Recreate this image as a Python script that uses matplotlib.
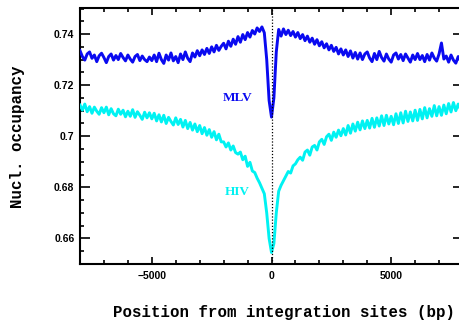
import matplotlib
matplotlib.use("Agg")
import matplotlib.pyplot as plt
import numpy as np
from matplotlib.ticker import MultipleLocator

# positions from integration sites, bp (100 bp bins)
pos = np.arange(-8000, 8001, 100)

# nucleosome occupancy around MLV integration sites
mlv = [0.7335, 0.7312, 0.7298, 0.7322, 0.7330, 0.7305, 0.7318, 0.7292, 0.7315, 0.7325,
       0.7308, 0.7288, 0.7312, 0.7322, 0.7298, 0.7316, 0.7300, 0.7324, 0.7308, 0.7295,
       0.7318, 0.7302, 0.7290, 0.7312, 0.7320, 0.7296, 0.7314, 0.7300, 0.7292, 0.7310,
       0.7296, 0.7318, 0.7292, 0.7325, 0.7300, 0.7285, 0.7318, 0.7298, 0.7326, 0.7295,
       0.7312, 0.7288, 0.7322, 0.7300, 0.7330, 0.7305, 0.7292, 0.7326, 0.7310, 0.7335,
       0.7315, 0.7338, 0.7320, 0.7344, 0.7324, 0.7350, 0.7330, 0.7356, 0.7336, 0.7352,
       0.7364, 0.7342, 0.7372, 0.7352, 0.7380, 0.7360, 0.7390, 0.7368, 0.7398, 0.7378,
       0.7406, 0.7388, 0.7414, 0.7400, 0.7424, 0.7410, 0.7428, 0.7405, 0.7300, 0.7140,
       0.7075,
       0.7150, 0.7330, 0.7418, 0.7392, 0.7420, 0.7398, 0.7415, 0.7394, 0.7410, 0.7388,
       0.7406, 0.7382, 0.7398, 0.7374, 0.7392, 0.7368, 0.7384, 0.7360, 0.7378, 0.7354,
       0.7370, 0.7346, 0.7362, 0.7338, 0.7356, 0.7332, 0.7348, 0.7322, 0.7342, 0.7318,
       0.7338, 0.7312, 0.7334, 0.7306, 0.7328, 0.7302, 0.7326, 0.7300, 0.7322, 0.7330,
       0.7306, 0.7292, 0.7324, 0.7300, 0.7332, 0.7308, 0.7294, 0.7322, 0.7302, 0.7290,
       0.7318, 0.7326, 0.7302, 0.7320, 0.7296, 0.7322, 0.7306, 0.7290, 0.7318, 0.7300,
       0.7324, 0.7300, 0.7316, 0.7292, 0.7320, 0.7298, 0.7326, 0.7306, 0.7294, 0.7322,
       0.7365, 0.7302, 0.7314, 0.7290, 0.7318, 0.7298, 0.7286, 0.7312, 0.7294, 0.7305]

# nucleosome occupancy around HIV integration sites
hiv = [0.7122, 0.7102, 0.7126, 0.7096, 0.7116, 0.7090, 0.7114, 0.7098, 0.7086, 0.7112,
       0.7092, 0.7114, 0.7084, 0.7108, 0.7088, 0.7080, 0.7106, 0.7086, 0.7102, 0.7076,
       0.7098, 0.7078, 0.7104, 0.7074, 0.7096, 0.7082, 0.7066, 0.7094, 0.7072, 0.7092,
       0.7068, 0.7090, 0.7060, 0.7084, 0.7056, 0.7082, 0.7050, 0.7074, 0.7058, 0.7044,
       0.7072, 0.7046, 0.7066, 0.7036, 0.7062, 0.7030, 0.7054, 0.7024, 0.7048, 0.7018,
       0.7042, 0.7010, 0.7034, 0.7004, 0.7026, 0.6996, 0.7018, 0.6986, 0.7008, 0.6978,
       0.6978, 0.6958, 0.6974, 0.6946, 0.6962, 0.6936, 0.6930, 0.6938, 0.6908, 0.6922,
       0.6882, 0.6898, 0.6864, 0.6858, 0.6836, 0.6818, 0.6796, 0.6775, 0.6700, 0.6600,
       0.6545,
       0.6580, 0.6700, 0.6785, 0.6808, 0.6826, 0.6844, 0.6862, 0.6856, 0.6884, 0.6892,
       0.6908, 0.6918, 0.6906, 0.6938, 0.6946, 0.6926, 0.6958, 0.6964, 0.6946, 0.6978,
       0.6988, 0.6968, 0.6998, 0.7008, 0.6984, 0.7016, 0.6996, 0.7024, 0.7002, 0.7030,
       0.7005, 0.7042, 0.7012, 0.7048, 0.7020, 0.7055, 0.7025, 0.7060, 0.7030, 0.7062,
       0.7032, 0.7070, 0.7035, 0.7072, 0.7040, 0.7080, 0.7042, 0.7082, 0.7048, 0.7078,
       0.7045, 0.7088, 0.7050, 0.7092, 0.7052, 0.7098, 0.7058, 0.7095, 0.7060, 0.7102,
       0.7062, 0.7105, 0.7068, 0.7112, 0.7072, 0.7108, 0.7078, 0.7120, 0.7080, 0.7116,
       0.7082, 0.7122, 0.7088, 0.7128, 0.7095, 0.7132, 0.7100, 0.7126, 0.7104, 0.7130]

yticks = [0.66, 0.68, 0.7, 0.72, 0.74]
ytick_labels = ['0.66', '0.68', '0.7', '0.72', '0.74']
xticks = [-5000, 0, 5000]
xtick_labels = ['\u22125000', '0', '5000']

c_mlv = '#0a0af0'
c_hiv = '#00f2f2'

fig = plt.figure(figsize=(4.59, 3.27), dpi=100)
ax = fig.add_axes([80/459, 63/327, 383/459, 255.5/327])

ax.axvline(0, color='k', linestyle=(0, (1, 1.5)), linewidth=0.9, zorder=5)
ax.plot(pos, mlv, color=c_mlv, linewidth=2.1, zorder=3)
ax.plot(pos, hiv, color=c_hiv, linewidth=2.1, zorder=3)

ax.text(-1400, 0.7151, 'MLV', color=c_mlv, fontsize=9.5, fontweight='bold',
        family='Liberation Serif', ha='center', va='center')
ax.text(-1440, 0.6780, 'HIV', color=c_hiv, fontsize=9.5, fontweight='bold',
        family='Liberation Serif', ha='center', va='center')

ax.set_xlim(-8000, 8000)
ax.set_ylim(0.65, 0.75)
ax.set_xticks(xticks)
ax.set_xticklabels(xtick_labels)
ax.set_yticks(yticks)
ax.set_yticklabels(ytick_labels)
ax.xaxis.set_minor_locator(MultipleLocator(1000))
ax.yaxis.set_minor_locator(MultipleLocator(0.005))

for s in ax.spines.values():
    s.set_linewidth(1.5)
ax.tick_params(which='both', direction='in', top=True, right=True, width=1.2)
ax.tick_params(axis='x', which='major', length=5, pad=5)
ax.tick_params(axis='y', which='major', length=7, pad=4)
ax.tick_params(which='minor', length=3)
for lab in ax.get_xticklabels() + ax.get_yticklabels():
    lab.set_family('Liberation Sans')
    lab.set_fontweight('bold')
    lab.set_fontsize(7.5)

fig.text(284/459, 1 - 313/327, 'Position from integration sites (bp)',
         family='Liberation Mono', fontweight='bold', fontsize=11.3,
         ha='center', va='center')
fig.text(18/459, 1 - 136.5/327, 'Nucl. occupancy', rotation=90,
         family='Liberation Mono', fontweight='bold', fontsize=11.3,
         ha='center', va='center')

fig.savefig('out.png', dpi=100)
